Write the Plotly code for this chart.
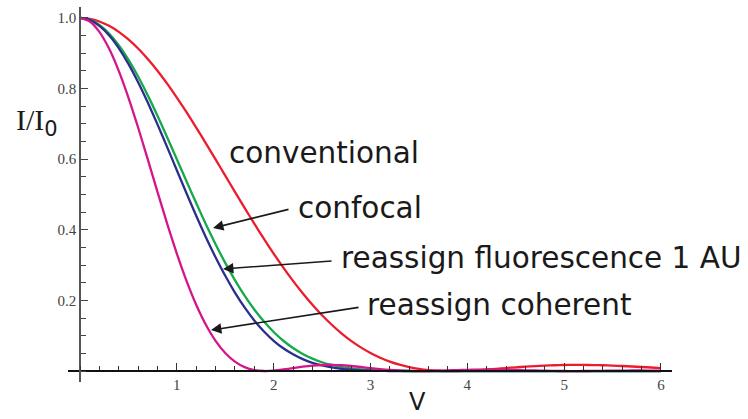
import plotly.graph_objects as go

v = [round(0.1 * i, 1) for i in range(61)]

conventional = [1.0, 0.9975, 0.9900, 0.9777, 0.9607, 0.9391, 0.9133, 0.8836, 0.8503, 0.8138,
                0.7746, 0.7331, 0.6897, 0.6450, 0.5994, 0.5534, 0.5075, 0.4620, 0.4175, 0.3742,
                0.3326, 0.2929, 0.2555, 0.2204, 0.1879, 0.1581, 0.1312, 0.1070, 0.0856, 0.0670,
                0.0511, 0.0377, 0.0267, 0.0179, 0.0111, 0.0062, 0.0028, 0.0009, 0.0001, 0.0002,
                0.0011, 0.0025, 0.0044, 0.0064, 0.0085, 0.0106, 0.0124, 0.0141, 0.0155, 0.0165,
                0.0172, 0.0175, 0.0174, 0.0170, 0.0164, 0.0154, 0.0143, 0.0129, 0.0115, 0.0100,
                0.0085]

confocal = [1.0, 0.9950, 0.9801, 0.9559, 0.9229, 0.8819, 0.8341, 0.7807, 0.7230, 0.6623,
            0.6000, 0.5374, 0.4757, 0.4160, 0.3593, 0.3063, 0.2576, 0.2135, 0.1743, 0.1400,
            0.1106, 0.0858, 0.0653, 0.0486, 0.0353, 0.0250, 0.0172, 0.0114, 0.0073, 0.0045,
            0.0026, 0.0014, 0.0007, 0.0003, 0.0001, 0.0, 0.0, 0.0, 0.0, 0.0,
            0.0, 0.0, 0.0, 0.0, 0.0, 0.0, 0.0, 0.0, 0.0, 0.0,
            0.0, 0.0, 0.0, 0.0, 0.0, 0.0, 0.0, 0.0, 0.0, 0.0,
            0.0]

reassign_fluor = [1.0, 0.9945, 0.9777, 0.9510, 0.9147, 0.8700, 0.8181, 0.7605, 0.6987, 0.6343,
                  0.5687, 0.5035, 0.4399, 0.3791, 0.3222, 0.2698, 0.2223, 0.1802, 0.1434, 0.1121,
                  0.0858, 0.0645, 0.0473, 0.0338, 0.0234, 0.0158, 0.0102, 0.0063, 0.0037, 0.0021,
                  0.0010, 0.0005, 0.0002, 0.0, 0.0, 0.0, 0.0, 0.0, 0.0, 0.0,
                  0.0, 0.0, 0.0, 0.0, 0.0, 0.0, 0.0, 0.0, 0.0, 0.0,
                  0.0, 0.0, 0.0, 0.0, 0.0, 0.0, 0.0, 0.0, 0.0, 0.0,
                  0.0]

reassign_coherent = [1.0, 0.9900, 0.9607, 0.9133, 0.8503, 0.7746, 0.6897, 0.5994, 0.5075, 0.4175,
                     0.3326, 0.2555, 0.1879, 0.1312, 0.0856, 0.0511, 0.0267, 0.0111, 0.0028, 0.0001,
                     0.0011, 0.0044, 0.0085, 0.0124, 0.0155, 0.0172, 0.0174, 0.0164, 0.0143, 0.0115,
                     0.0085, 0.0055, 0.0032, 0.0015, 0.0005, 0.0000, 0.0002, 0.0008, 0.0017, 0.0029,
                     0.0034, 0.0042, 0.0042, 0.0040, 0.0036, 0.0030, 0.0022, 0.0015, 0.0008, 0.0003,
                     0.0001, 0.0000, 0.0001, 0.0003, 0.0007, 0.0010, 0.0013, 0.0015, 0.0015, 0.0014,
                     0.0014]

x_ticks = [1, 2, 3, 4, 5, 6]
y_ticks = [0.2, 0.4, 0.6, 0.8, 1.0]
y_tick_text = ["0.2", "0.4", "0.6", "0.8", "1.0"]

labels = ["conventional", "confocal", "reassign fluorescence 1 AU", "reassign coherent"]

W, H = 748, 419
X_RANGE = [-0.124, 6.114]
Y_RANGE = [-0.031, 1.031]
ml, mr, mt, mb = 68, 76, 7, 37
PW, PH = W - ml - mr, H - mt - mb


def px_to_paper(px, py):
    return (px - ml) / PW, (H - mb - py) / PH


fig = go.Figure()
series = [
    (conventional, "#EC1C2E"),
    (confocal, "#17A84B"),
    (reassign_fluor, "#2B2F8C"),
    (reassign_coherent, "#D4168B"),
]
for ys, col in series:
    fig.add_trace(go.Scatter(x=v, y=ys, mode="lines",
                             line=dict(color=col, width=2.3, shape="spline", smoothing=0.6),
                             showlegend=False, hoverinfo="skip"))

txt_font = dict(family="DejaVu Sans", size=29.5, color="#1a1a1a")

# text labels: (x, y) of left-middle
label_pos = [(1.518, 0.618), (2.231, 0.462), (2.675, 0.320), (2.943, 0.187)]
for t, (lx, ly) in zip(labels, label_pos):
    fig.add_annotation(x=lx, y=ly, xref="x", yref="y", text=t, showarrow=False,
                       xanchor="left", yanchor="middle", font=txt_font)

# arrows: tip (x, y), tail (ax, ay)
arrows = [((1.374, 0.405), (2.169, 0.459)),
          ((1.477, 0.289), (2.613, 0.312)),
          ((1.353, 0.116), (2.892, 0.181))]
for (tx, ty), (ax, ay) in arrows:
    fig.add_annotation(x=tx, y=ty, xref="x", yref="y", ax=ax, ay=ay, axref="x", ayref="y",
                       text="", showarrow=True, arrowhead=2, arrowsize=1.3, arrowwidth=1.6,
                       arrowcolor="#1a1a1a", standoff=0, startstandoff=0)

# axis titles
tx_, ty_ = px_to_paper(14, 122)
fig.add_annotation(x=tx_, y=ty_, xref="paper", yref="paper", xanchor="left", yanchor="middle",
                   text='I/I<sub><span style="font-family:DejaVu Sans">0</span></sub>', showarrow=False,
                   font=dict(family="Liberation Serif", size=30, color="#1a1a1a"))
vx_, vy_ = px_to_paper(417, 402)
fig.add_annotation(x=vx_, y=vy_, xref="paper", yref="paper", xanchor="center", yanchor="middle",
                   text="V", showarrow=False,
                   font=dict(family="DejaVu Sans", size=24, color="#1a1a1a"))

xpos = (0 - Y_RANGE[0]) / (Y_RANGE[1] - Y_RANGE[0])
ypos = (0 - X_RANGE[0]) / (X_RANGE[1] - X_RANGE[0])

fig.update_layout(
    template="none",
    width=W, height=H,
    margin=dict(l=ml, r=mr, t=mt, b=mb, autoexpand=False),
    paper_bgcolor="white", plot_bgcolor="white",
    xaxis=dict(range=X_RANGE, anchor="free", position=xpos, showgrid=False, zeroline=False,
               automargin=False,
               showline=True, linecolor="#111", linewidth=2,
               tickvals=x_ticks, ticktext=[str(t) for t in x_ticks], ticks="inside", ticklen=7,
               tickcolor="#333", tickwidth=1,
               minor=dict(dtick=0.2, tick0=0, ticks="inside", ticklen=4, tickcolor="#333", tickwidth=1),
               tickfont=dict(family="Liberation Serif", size=15, color="#444")),
    yaxis=dict(range=Y_RANGE, anchor="free", position=ypos, showgrid=False, zeroline=False,
               automargin=False,
               showline=True, linecolor="#555", linewidth=1.5,
               tickvals=y_ticks, ticktext=y_tick_text, ticks="inside", ticklen=7,
               tickcolor="#444", tickwidth=1,
               minor=dict(dtick=0.05, tick0=0, ticks="inside", ticklen=5, tickcolor="#444", tickwidth=1),
               tickfont=dict(family="Liberation Serif", size=15, color="#444")),
)

fig.write_html("out.html", config={"displayModeBar": False},
               post_script="document.body.style.margin='0';document.body.style.padding='0';")
